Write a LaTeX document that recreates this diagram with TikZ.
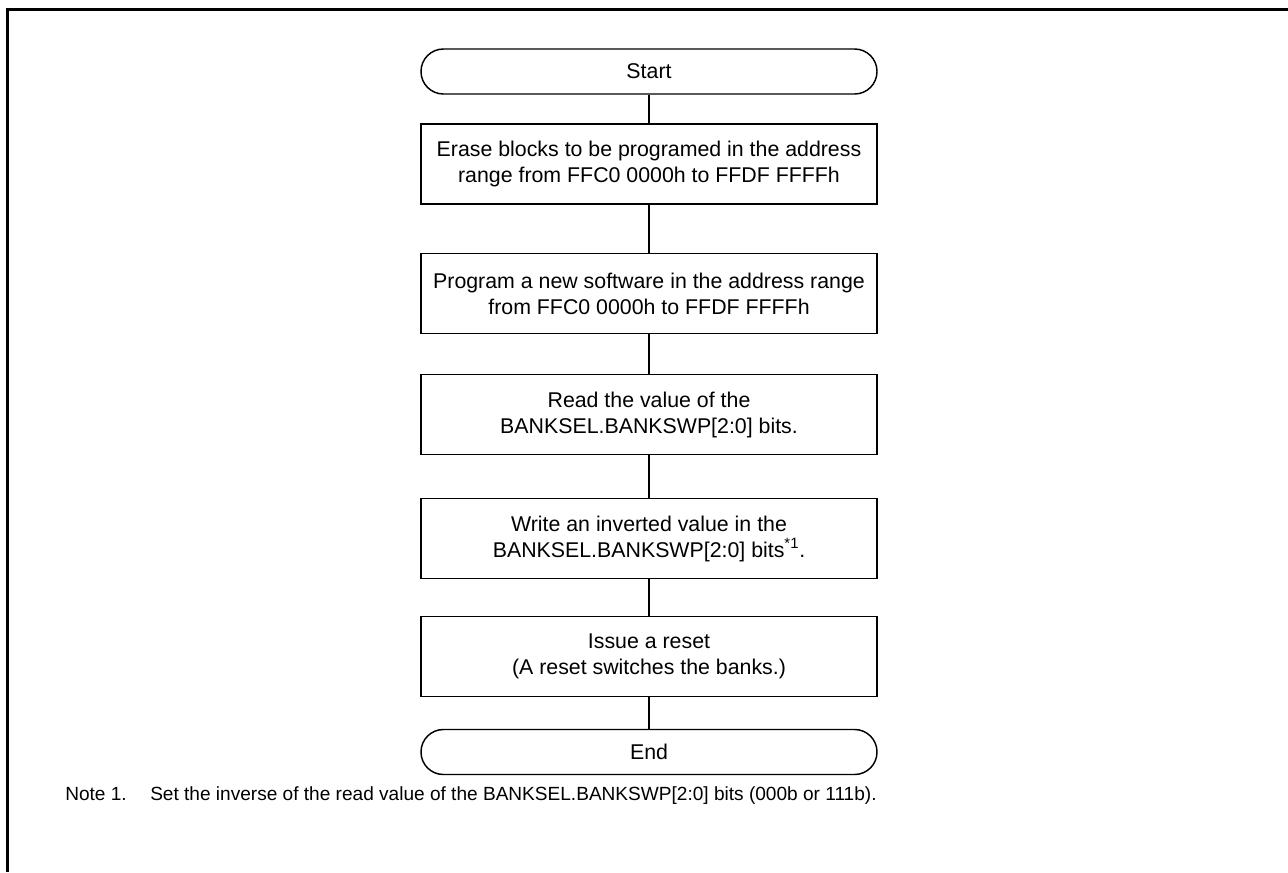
\documentclass[tikz,border=0pt]{standalone}
\usepackage{fontspec}
\setmainfont{Liberation Sans}
\usetikzlibrary{positioning}

\begin{document}
\begin{tikzpicture}[x=0.75pt, y=-0.75pt, font=\fontsize{16}{19.5}\selectfont]
\tikzstyle{term}=[draw,line width=1.1pt,rounded corners=16.8pt,minimum width=342pt,minimum height=33.75pt,inner sep=0pt]
\tikzstyle{proc}=[draw,line width=1.1pt,minimum width=342pt,minimum height=60pt,align=center,inner sep=0pt]
\tikzstyle{link}=[line width=1.1pt]
\tikzstyle{notetext}=[anchor=base west,inner sep=0pt,font=\fontsize{14.3}{17}\selectfont]
\useasboundingbox (0,0) rectangle (1288,872);
% frame (left and top only)
\draw[line width=2.3pt] (7.5,872) -- (7.5,9.5) -- (1288,9.5);
\node[term] (start) at (649,71.5) {Start};
\node[proc] (erase) at (649,164)   {Erase blocks to be programed in the address\\range from FFC0 0000h to FFDF FFFFh};
\node[proc] (prog)  at (649,293.5) {Program a new software in the address range\\from FFC0 0000h to FFDF FFFFh};
\node[proc] (read)  at (649,414.5) {Read the value of the\\BANKSEL.BANKSWP[2:0] bits.};
\node[proc] (write) at (649,538.5) {Write an inverted value in the\\BANKSEL.BANKSWP[2:0] bits\textsuperscript{*1}.};
\node[proc] (reset) at (649,656.5) {Issue a reset\\(A reset switches the banks.)};
\node[term] (end)   at (649,752)   {End};
\draw[link] (start)--(erase); \draw[link] (erase)--(prog); \draw[link] (prog)--(read);
\draw[link] (read)--(write); \draw[link] (write)--(reset); \draw[link] (reset)--(end);
% note
\node[notetext] (notelbl) at (65,800)  {Note 1.};
\node[notetext] (notetxt) at (150,800) {Set the inverse of the read value of the BANKSEL.BANKSWP[2:0] bits (000b or 111b).};
\end{tikzpicture}
\end{document}
